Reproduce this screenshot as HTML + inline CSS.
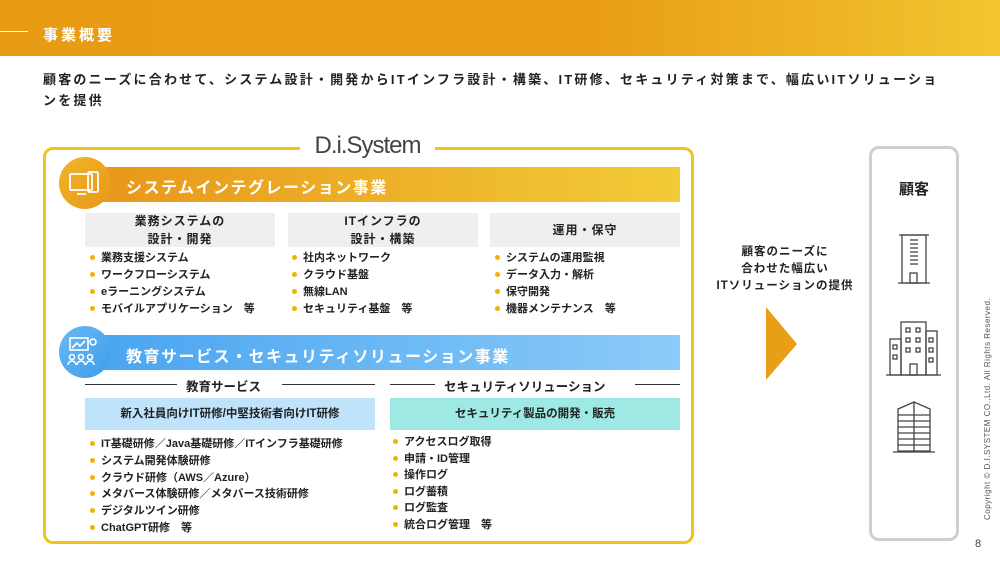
<!DOCTYPE html>
<html><head><meta charset="utf-8"><style>
*{margin:0;padding:0;box-sizing:border-box}
body{width:1000px;height:563px;position:relative;background:#fff;font-family:"Liberation Sans","Noto Sans CJK JP",sans-serif;color:#222;overflow:hidden}
.a{position:absolute}
.hdr{left:0;top:0;width:1000px;height:56px;background:linear-gradient(90deg,#e89c14 0%,#e99e16 60%,#f2c530 100%)}
.b{font-weight:bold}
.ul{list-style:none;font-size:11px;font-weight:bold;line-height:17px}
.ul li:before{content:"";display:inline-block;width:5px;height:5px;border-radius:50%;background:#f0b400;margin:0 6px 1px 0;vertical-align:middle}
.gh{background:#efefef;font-size:12px;font-weight:bold;text-align:center;display:flex;align-items:center;justify-content:center;line-height:18px;height:34px;top:213px;width:190px;letter-spacing:1px}
</style></head><body>
<div class="a hdr"></div>
<div class="a" style="left:0;top:31px;width:28px;height:1px;background:#fff"></div>
<div class="a b" style="left:43px;top:24px;color:#fff;font-size:15px;letter-spacing:3px">事業概要</div>
<div class="a b" style="left:43px;top:69px;width:940px;font-size:13px;line-height:21px;letter-spacing:2.2px;white-space:nowrap">顧客のニーズに合わせて、システム設計・開発からITインフラ設計・構築、IT研修、セキュリティ対策まで、幅広いITソリューショ<br>ンを提供</div>

<div class="a" style="left:43px;top:147px;width:651px;height:397px;border:3px solid #f1c419;border-radius:10px"></div>
<div class="a" style="left:300px;top:132px;width:135px;height:28px;background:#fff;text-align:center;font-size:24px;color:#444;line-height:28px;letter-spacing:-1px">D.i.System</div>

<div class="a" style="left:85px;top:167px;width:595px;height:35px;background:linear-gradient(90deg,#e8961a,#f2cb38)"></div>
<div class="a" style="left:59px;top:157px;width:52px;height:52px;border-radius:50%;background:linear-gradient(135deg,#f0b52a,#e99718)"></div>
<svg class="a" style="left:68px;top:170px" width="34" height="28" viewBox="0 0 34 28" fill="none" stroke="#fff" stroke-width="1.8"><rect x="2" y="4" width="22" height="16" rx="1"/><rect x="20" y="2" width="10" height="20" rx="1.5"/><line x1="9" y1="24" x2="18" y2="24"/></svg>
<div class="a b" style="left:126px;top:174px;color:#fff;font-size:16px;letter-spacing:1.5px">システムインテグレーション事業</div>

<div class="a gh" style="left:85px">業務システムの<br>設計・開発</div>
<div class="a gh" style="left:288px">ITインフラの<br>設計・構築</div>
<div class="a gh" style="left:490px">運用・保守</div>
<ul class="a ul" style="left:90px;top:250px"><li>業務支援システム</li><li>ワークフローシステム</li><li>eラーニングシステム</li><li>モバイルアプリケーション　等</li></ul>
<ul class="a ul" style="left:292px;top:250px"><li>社内ネットワーク</li><li>クラウド基盤</li><li>無線LAN</li><li>セキュリティ基盤　等</li></ul>
<ul class="a ul" style="left:495px;top:250px"><li>システムの運用監視</li><li>データ入力・解析</li><li>保守開発</li><li>機器メンテナンス　等</li></ul>

<div class="a" style="left:85px;top:335px;width:595px;height:35px;background:linear-gradient(90deg,#48a4f0,#8ccbf9)"></div>
<div class="a" style="left:59px;top:326px;width:52px;height:52px;border-radius:50%;background:linear-gradient(135deg,#6ab9f5,#3d9cec)"></div>
<svg class="a" style="left:66px;top:336px" width="36" height="32" viewBox="0 0 36 32" fill="none" stroke="#fff" stroke-width="1.6"><rect x="4" y="2" width="18" height="12"/><polyline points="6,12 11,7 14,10 19,5"/><circle cx="27" cy="6" r="3"/><circle cx="6" cy="21" r="2.5"/><circle cx="15" cy="21" r="2.5"/><circle cx="24" cy="21" r="2.5"/><path d="M2 29a4 4 0 0 1 8 0M11 29a4 4 0 0 1 8 0M20 29a4 4 0 0 1 8 0"/></svg>
<div class="a b" style="left:126px;top:343px;color:#fff;font-size:16px;letter-spacing:1.5px">教育サービス・セキュリティソリューション事業</div>

<div class="a" style="left:85px;top:384px;width:92px;height:1px;background:#333"></div>
<div class="a b" style="left:186px;top:376px;font-size:12.5px">教育サービス</div>
<div class="a" style="left:282px;top:384px;width:93px;height:1px;background:#333"></div>
<div class="a" style="left:390px;top:384px;width:45px;height:1px;background:#333"></div>
<div class="a b" style="left:444px;top:376px;font-size:12.5px">セキュリティソリューション</div>
<div class="a" style="left:635px;top:384px;width:45px;height:1px;background:#333"></div>

<div class="a b" style="left:85px;top:398px;width:290px;height:32px;background:#bfe3fb;font-size:11.5px;text-align:center;line-height:32px">新入社員向けIT研修/中堅技術者向けIT研修</div>
<div class="a b" style="left:390px;top:398px;width:290px;height:32px;background:#9fe9e5;font-size:11.5px;text-align:center;line-height:32px">セキュリティ製品の開発・販売</div>
<ul class="a ul" style="left:90px;top:436px;line-height:16.8px"><li>IT基礎研修／Java基礎研修／ITインフラ基礎研修</li><li>システム開発体験研修</li><li>クラウド研修（AWS／Azure）</li><li>メタバース体験研修／メタバース技術研修</li><li>デジタルツイン研修</li><li>ChatGPT研修　等</li></ul>
<ul class="a ul" style="left:393px;top:434px;line-height:16.6px"><li>アクセスログ取得</li><li>申請・ID管理</li><li>操作ログ</li><li>ログ蓄積</li><li>ログ監査</li><li>統合ログ管理　等</li></ul>

<div class="a b" style="left:700px;top:244px;width:170px;text-align:center;font-size:11.5px;line-height:17px;letter-spacing:1px">顧客のニーズに<br>合わせた幅広い<br>ITソリューションの提供</div>
<svg class="a" style="left:765px;top:306px" width="34" height="76"><polygon points="1,1 32,38 1,74" fill="#e99e17"/></svg>

<div class="a" style="left:869px;top:146px;width:90px;height:395px;border:3px solid #cfcfcf;border-radius:10px"></div>
<div class="a b" style="left:869px;top:178px;width:90px;text-align:center;font-size:15px">顧客</div>
<svg class="a" style="left:880px;top:230px" width="70" height="230" fill="none" stroke="#444" stroke-width="1.3">
<line x1="19" y1="5" x2="49" y2="5"/><rect x="22" y="5" width="24" height="48"/><line x1="18" y1="53" x2="50" y2="53"/><rect x="30" y="43" width="7" height="10"/>
<line x1="30" y1="10" x2="38" y2="10"/><line x1="30" y1="14" x2="38" y2="14"/><line x1="30" y1="18" x2="38" y2="18"/><line x1="30" y1="22" x2="38" y2="22"/><line x1="30" y1="26" x2="38" y2="26"/><line x1="30" y1="30" x2="38" y2="30"/><line x1="30" y1="34" x2="38" y2="34"/>
<g transform="translate(0,-20)">
<rect x="10" y="129" width="11" height="36"/><rect x="21" y="112" width="25" height="53"/><rect x="46" y="121" width="11" height="44"/><line x1="6" y1="165" x2="61" y2="165"/>
<rect x="26" y="118" width="4" height="4"/><rect x="36" y="118" width="4" height="4"/><rect x="26" y="128" width="4" height="4"/><rect x="36" y="128" width="4" height="4"/><rect x="26" y="138" width="4" height="4"/><rect x="36" y="138" width="4" height="4"/><rect x="13" y="135" width="4" height="4"/><rect x="13" y="145" width="4" height="4"/><rect x="49" y="128" width="4" height="4"/><rect x="49" y="138" width="4" height="4"/><rect x="49" y="148" width="4" height="4"/><rect x="30" y="154" width="7" height="11"/>
</g>
<path d="M18 179 L34 172 L50 179 L50 221 L18 221 Z"/><line x1="34" y1="172" x2="34" y2="221"/><line x1="13" y1="222" x2="55" y2="222"/>
<line x1="18" y1="185" x2="50" y2="185"/><line x1="18" y1="191" x2="50" y2="191"/><line x1="18" y1="197" x2="50" y2="197"/><line x1="18" y1="203" x2="50" y2="203"/><line x1="18" y1="209" x2="50" y2="209"/><line x1="18" y1="215" x2="50" y2="215"/>
</svg>
<div class="a" style="left:983px;top:520px;transform:rotate(-90deg);transform-origin:0 0;font-size:8px;color:#555;white-space:nowrap;letter-spacing:0.5px">Copyright © D.I.SYSTEM CO.,Ltd. All Rights Reserved.</div>
<div class="a" style="left:975px;top:538px;font-size:11px;color:#444">8</div>
</body></html>
